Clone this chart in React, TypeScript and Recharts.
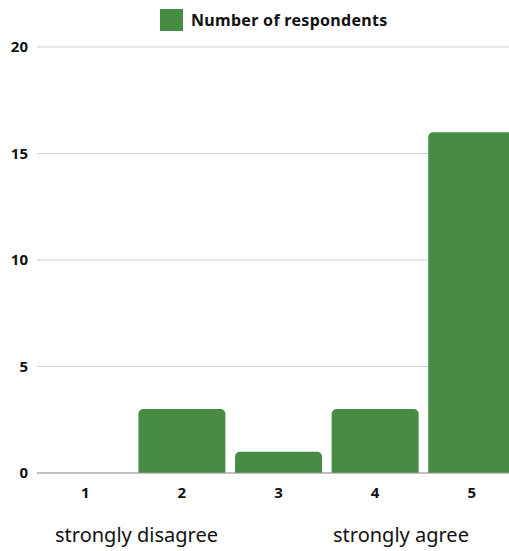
import { BarChart, Bar, XAxis, YAxis, CartesianGrid, Legend } from "recharts";

const ratings = ["1", "2", "3", "4", "5"];
const respondents = [0, 3, 1, 3, 16];
const yTicks = [0, 5, 10, 15, 20];
const scaleEnds = ["strongly disagree", "strongly agree"];

const GREEN = "#468c44";
const FONT = "'Noto Sans', 'Open Sans', sans-serif";

const data = ratings.map((r, i) => ({ rating: r, count: respondents[i] }));

function LegendBox() {
  return (
    <div style={{ display: "flex", alignItems: "center", fontFamily: FONT }}>
      <span style={{ width: 23, height: 22, background: GREEN, display: "inline-block" }} />
      <span style={{ marginLeft: 8, fontWeight: 700, fontSize: 16, color: "#111", letterSpacing: 0.3 }}>
        Number of respondents
      </span>
    </div>
  );
}

export default function App() {
  return (
    <div style={{ position: "absolute", top: 0, left: 0, width: 509, height: 551, overflow: "hidden", fontFamily: FONT }}>
      <BarChart
        width={520}
        height={551}
        data={data}
        barCategoryGap="5%"
        margin={{ top: 47, right: 0, left: 0, bottom: 48 }}
      >
        <CartesianGrid vertical={false} stroke="#cfcfcf" />
        <XAxis
          dataKey="rating"
          axisLine={{ stroke: "#999" }}
          tickLine={false}
          tickMargin={8}
          tick={{ fontSize: 15, fontWeight: 700, fill: "#111" }}
        />
        <YAxis
          width={37}
          domain={[0, 20]}
          ticks={yTicks}
          axisLine={false}
          tickLine={false}
          tickSize={0}
          tickMargin={9}
          tick={{ fontSize: 15, fontWeight: 700, fill: "#111" }}
        />
        <Legend
          verticalAlign="top"
          content={() => <LegendBox />}
          wrapperStyle={{ top: 9, left: 160, width: "auto", height: 0 }}
        />
        <Bar dataKey="count" fill={GREEN} radius={[5, 5, 0, 0]} isAnimationActive={false} />
      </BarChart>
      <div style={{ position: "absolute", top: 521, left: 55, fontSize: 20, color: "#111" }}>{scaleEnds[0]}</div>
      <div style={{ position: "absolute", top: 521, left: 333, fontSize: 20, color: "#111" }}>{scaleEnds[1]}</div>
    </div>
  );
}
